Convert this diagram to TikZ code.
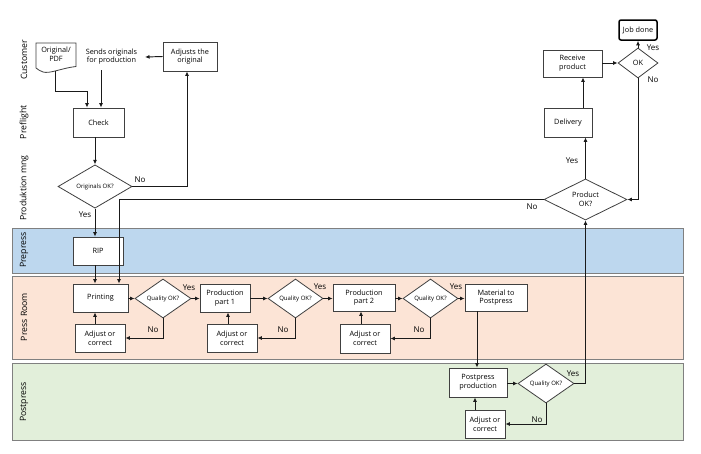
\documentclass[tikz,border=0pt]{standalone}
\usepackage{fontspec}
\setmainfont{Open Sans}
\usetikzlibrary{arrows.meta,shapes.geometric,calc}
\definecolor{prepressc}{HTML}{BDD7EE}
\definecolor{pressc}{HTML}{FCE4D6}
\definecolor{postc}{HTML}{E2EFDA}
\definecolor{bandline}{HTML}{808080}
\definecolor{boxline}{HTML}{404040}
\definecolor{arrline}{HTML}{1A1A1A}
\begin{document}
\begin{tikzpicture}[x=1pt,y=-1pt,
  box/.style={draw=boxline, fill=white, line width=0.8pt, inner sep=1pt, align=center,
    font=\fontsize{7.3}{8.7}\selectfont},
  dec/.style={diamond, draw=boxline, fill=white, line width=0.8pt, inner sep=0pt, align=center,
    font=\fontsize{6}{7.2}\selectfont},
  arr/.style={draw=arrline, line width=0.95pt, -{Latex[length=4.5pt,width=4pt]}},
  lbl/.style={font=\fontsize{8}{9.5}\selectfont, inner sep=0pt},
  band/.style={draw=bandline, line width=0.9pt},
  lanelbl/.style={rotate=90, font=\fontsize{8.7}{10}\selectfont, inner sep=0pt}
]
\useasboundingbox (0,0) rectangle (701,453);
\fill[white] (0,0) rectangle (701,453);

% bands
\draw[band, fill=prepressc] (12,228) rectangle (683,273);
\draw[band, fill=pressc] (12,276) rectangle (683,359);
\draw[band, fill=postc] (12,363) rectangle (683,440);

% lane labels
\node[lanelbl] (lcust) at (24,60) {Customer};
\node[lanelbl] (lpre) at (24,122) {Preflight};
\node[lanelbl] (lprod) at (24,188) {Produktion mng};
\node[lanelbl] (lprep) at (24,250) {Prepress};
\node[lanelbl] (lpress) at (24,317) {Press Room};
\node[lanelbl] (lpost) at (24,402) {Postpress};

% document shape
\draw[draw=boxline, fill=white, line width=0.8pt]
  (36,43) -- (76,43) -- (76,66.5)
  .. controls (62,68) and (50,74) .. (43,72)
  .. controls (40,71) and (38,69.5) .. (36,68) -- cycle;
\node[font=\fontsize{7.3}{8.7}\selectfont, align=center, inner sep=0pt] (doc) at (56,54) {Original/\\PDF};
\coordinate (docb) at (55,71);

\node[font=\fontsize{7.3}{8.7}\selectfont, align=center, inner sep=0pt] (sends) at (111.5,56.5) {Sends originals\\for production};
\coordinate (sendsb) at (101,70);
\coordinate (sendsr) at (145,57);

\node[box, minimum width=54pt, minimum height=29pt] (adjusts) at (190,56.5) {Adjusts the\\original};
\node[box, minimum width=51pt, minimum height=29pt] (check) at (98.5,122.5) {Check};
\node[dec, minimum width=74pt, minimum height=39pt] (dia1) at (95,186.5) {Originals OK?};

\node[box, minimum width=50pt, minimum height=28pt] (rip) at (98,251) {RIP};
\node[box, minimum width=55pt, minimum height=28pt] (printing) at (100.5,298) {Printing};
\node[dec, minimum width=56pt, minimum height=39pt] (q1) at (163,298.5) {Quality OK?};
\node[box, minimum width=50pt, minimum height=28pt] (p1) at (225,298) {Production\\part 1};
\node[box, minimum width=50pt, minimum height=28pt] (adj1) at (100,338) {Adjust or\\correct};
\node[dec, minimum width=55pt, minimum height=39pt] (q2) at (295.5,298.5) {Quality OK?};
\node[box, minimum width=50pt, minimum height=28pt] (adj2) at (232,338) {Adjust or\\correct};
\node[box, minimum width=62pt, minimum height=27pt] (p2) at (364,297.5) {Production\\part 2};
\node[dec, minimum width=55pt, minimum height=39pt] (q3) at (430.5,298.5) {Quality OK?};
\node[box, minimum width=62pt, minimum height=27pt] (mat) at (496,297.5) {Material to\\Postpress};
\node[box, minimum width=50pt, minimum height=29pt] (adj3) at (365,338.5) {Adjust or\\correct};

\node[box, minimum width=58pt, minimum height=29pt] (pp) at (478,382.5) {Postpress\\production};
\node[dec, minimum width=56pt, minimum height=39pt] (q4) at (546,383.5) {Quality OK?};
\node[box, minimum width=40pt, minimum height=28pt] (adj4) at (485,424) {Adjust or\\correct};

\node[dec, minimum width=83pt, minimum height=39pt, font=\fontsize{7.3}{8.7}\selectfont] (pok) at (585.5,199.5) {Product\\OK?};
\node[box, minimum width=48pt, minimum height=29pt] (delivery) at (568,122.5) {Delivery};
\node[box, minimum width=59pt, minimum height=27pt] (receive) at (572.5,63.5) {Receive\\product};
\node[dec, minimum width=40pt, minimum height=30pt, font=\fontsize{7.3}{8.7}\selectfont] (ok) at (638,63) {OK};
\node[box, rounded corners=2pt, line width=1.5pt, draw=black, minimum width=38pt, minimum height=20pt] (jobdone) at (638,30) {Job done};

% connectors
\draw[arr] (docb) -- ++(0,20) -| ([xshift=-11.5pt]check.north);
\draw[arr] (sendsb) -- (sendsb |- check.north);
\draw[arr] (adjusts.west) -- (sendsr);
\draw[arr] (check.south -| dia1.north) -- (dia1.north);
\draw[arr] (dia1.east) -| ([xshift=-3pt]adjusts.south);
\draw[arr] (dia1.south) -- (dia1.south |- rip.north);
\draw[arr] (rip.south -| dia1.south) -- (dia1.south |- printing.north);
\draw[arr] (pok.west) -| ([xshift=18.5pt]printing.north);

\draw[arr] (q1.west -| printing.east) -- (q1.west);
\draw[arr] (q1.east) -- (q1.east -| p1.west);
\draw[arr] (q1.south) |- (adj1.east);
\draw[arr] ([xshift=-5pt]adj1.north) -- ([xshift=-5pt]adj1.north |- printing.south);

\draw[arr] (q2.west -| p1.east) -- (q2.west);
\draw[arr] (q2.east) -- (q2.east -| p2.west);
\draw[arr] (q2.south) |- (adj2.east);
\draw[arr] ([xshift=-4pt]adj2.north) -- ([xshift=-4pt]adj2.north |- p1.south);

\draw[arr] (q3.west -| p2.east) -- (q3.west);
\draw[arr] (q3.east) -- (q3.east -| mat.west);
\draw[arr] (q3.south) |- (adj3.east);
\draw[arr] ([xshift=-4pt]adj3.north) -- ([xshift=-4pt]adj3.north |- p2.south);

\draw[arr] ([xshift=-19pt]mat.south) -- ([xshift=-19pt]mat.south |- pp.north);
\draw[arr] (q4.west -| pp.east) -- (q4.west);
\draw[arr] (q4.east) -| (pok.south);
\draw[arr] (q4.south) |- (adj4.east);
\draw[arr] ([xshift=-10pt]adj4.north) -- ([xshift=-10pt]adj4.north |- pp.south);

\draw[arr] (pok.north) -- (pok.north |- delivery.south);
\draw[arr] ([xshift=15pt]delivery.north) -- ([xshift=15pt]delivery.north |- receive.south);
\draw[arr] (ok.west -| receive.east) -- (ok.west);
\draw[arr] (ok.north) -- (jobdone.south);
\draw[arr] (ok.south) |- (pok.east);

% labels
\node[lbl] (l1) at (140,180) {No};
\node[lbl] (l2) at (85,215) {Yes};
\node[lbl] (l3) at (532,207) {No};
\node[lbl] (l4) at (189,288) {Yes};
\node[lbl] (l5) at (153,330) {No};
\node[lbl] (l6) at (320,287) {Yes};
\node[lbl] (l7) at (283,330) {No};
\node[lbl] (l8) at (456,287) {Yes};
\node[lbl] (l9) at (419,330) {No};
\node[lbl] (l10) at (573,374) {Yes};
\node[lbl] (l11) at (537,420) {No};
\node[lbl] (l12) at (572,161) {Yes};
\node[lbl] (l13) at (653,48) {Yes};
\node[lbl] (l14) at (653,80) {No};
\end{tikzpicture}
\end{document}
